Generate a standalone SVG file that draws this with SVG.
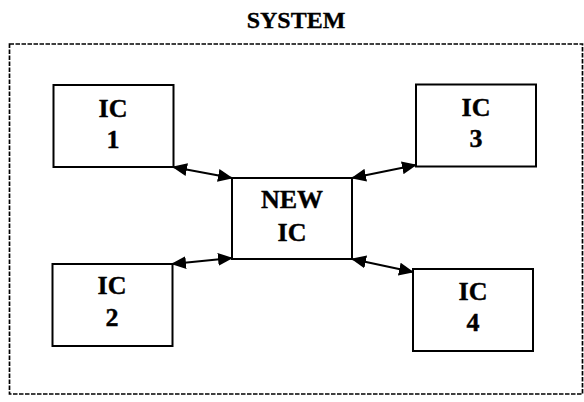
<svg xmlns="http://www.w3.org/2000/svg" width="584" height="402" viewBox="0 0 584 402">
<style>
.box{fill:#fff;stroke:#000;stroke-width:2}
.t{font-family:"Liberation Serif","Times New Roman",serif;font-weight:bold;font-size:26px;fill:#000;stroke:#000;stroke-width:0.4;text-anchor:middle}
.h{font-family:"Liberation Serif","Times New Roman",serif;font-weight:bold;font-size:24px;fill:#000;stroke:#000;stroke-width:0.3;text-anchor:middle}
.c{stroke:#000;stroke-width:2;fill:none;marker-start:url(#ah);marker-end:url(#ah)}
</style>
<defs>
<marker id="ah" markerUnits="userSpaceOnUse" markerWidth="15" markerHeight="13" viewBox="0 0 15 13" refX="14" refY="6.5" orient="auto-start-reverse">
<path d="M0,0 L15,6.5 L0,13 Z" fill="#000"/>
</marker>
</defs>
<rect width="584" height="402" fill="#fff"/>
<g id="system">
<rect x="9.5" y="44" width="573" height="350" fill="none" stroke="#000" stroke-width="1.7" stroke-dasharray="4.5 1.5"/>
<text class="h" x="296" y="28">SYSTEM</text>
</g>
<g id="ic1"><rect class="box" x="53.5" y="85" width="120" height="82"/><text class="t" x="113" y="117">IC</text><text class="t" x="113" y="148">1</text></g>
<g id="ic3"><rect class="box" x="416" y="84.5" width="120" height="82"/><text class="t" x="476" y="116">IC</text><text class="t" x="476" y="147">3</text></g>
<g id="ic2"><rect class="box" x="52.5" y="264" width="120" height="82"/><text class="t" x="112" y="294">IC</text><text class="t" x="112" y="326">2</text></g>
<g id="ic4"><rect class="box" x="413" y="269" width="120" height="82"/><text class="t" x="473" y="300">IC</text><text class="t" x="473" y="331">4</text></g>
<g id="newic"><rect class="box" x="232" y="178" width="120" height="81"/><text class="t" x="292" y="208">NEW</text><text class="t" x="292" y="241">IC</text></g>
<g id="connectors">
<line class="c" x1="173" y1="167" x2="232" y2="178"/>
<line class="c" x1="416" y1="165" x2="352" y2="178"/>
<line class="c" x1="172" y1="264" x2="232" y2="258"/>
<line class="c" x1="413" y1="272" x2="352" y2="259"/>
</g>
</svg>
